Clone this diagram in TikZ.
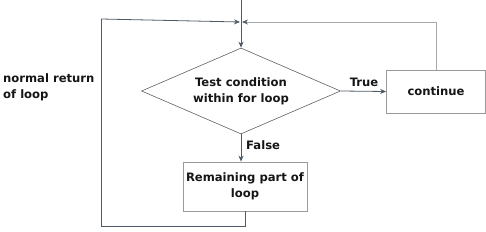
\documentclass[tikz,border=0pt]{standalone}
\usepackage{fontspec}
\setmainfont{DejaVu Sans}
\usetikzlibrary{shapes.geometric,arrows.meta}
\definecolor{lineblue}{HTML}{4E5A66}
\definecolor{lightline}{HTML}{A8A8A8}
\definecolor{boxline}{HTML}{9A9A9A}
\definecolor{txt}{HTML}{151515}
\tikzset{
  lbl/.style={font=\bfseries\fontsize{11.6}{16}\selectfont, text=txt, inner sep=0pt},
  boxnode/.style={draw=boxline, line width=0.8pt, lbl, align=center},
  flow/.style={draw=lineblue, line width=0.8pt, -{Stealth[length=6pt,width=5pt]}},
  plain/.style={draw=lineblue, line width=0.8pt},
  lightflow/.style={draw=lightline, line width=0.8pt, -{Stealth[length=6pt,width=5pt,color=lineblue]}},
}
\begin{document}
\begin{tikzpicture}[x=1pt,y=-1pt]
\useasboundingbox (0,0) rectangle (486,232);
\coordinate (top) at (241,0);
\coordinate (jl) at (240,22);
\coordinate (jr) at (242,22);
\coordinate (lt) at (101,19);
\node[diamond, draw=gray!75!black, line width=0.6pt, lbl, align=center, inner sep=0pt,
      minimum width=199pt, minimum height=86pt, aspect=2.3] (dec) at (241,91)
      {Test condition\\within for loop};
\node[boxnode, minimum width=99pt, minimum height=43pt] (cont) at (436,91.5) {continue};
\node[boxnode, minimum width=124pt, minimum height=49pt] (rem) at (245,186.5) {Remaining part of\\loop};
\node[lbl, anchor=center] (true) at (364,82) {True};
\node[lbl, anchor=west] (false) at (246,145) {False};
\node[lbl, anchor=north west, align=left] (ret) at (3,73) {normal return\\of loop};
\coordinate (bl) at (101,226);
\draw[flow] (top) -- (dec.north);
\draw[flow] (dec.east) -- (cont.west);
\draw[flow] (dec.south) -- (dec.south |- rem.north);
\draw[plain] (rem.south) |- (bl) -- (lt);
\draw[flow] (lt) -- (jl);
\draw[lightflow] (cont.north) |- (jr);
\end{tikzpicture}
\end{document}
